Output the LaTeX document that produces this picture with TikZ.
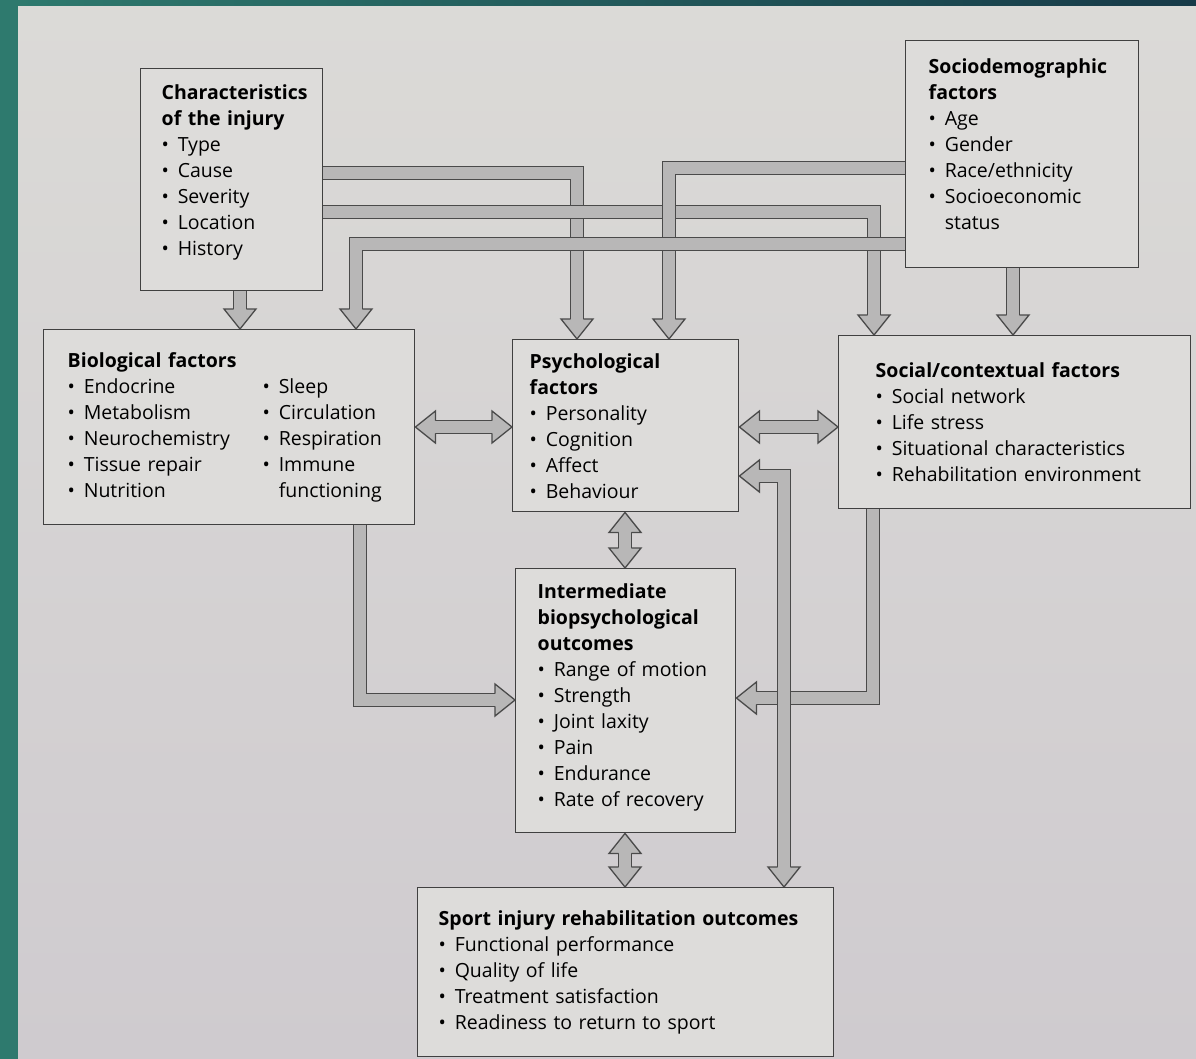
\documentclass[tikz,border=0pt]{standalone}
\usepackage{fontspec}
\setmainfont{Open Sans}
\usetikzlibrary{backgrounds}

\definecolor{tealbg}{HTML}{2E7A6E}
\definecolor{navybg}{HTML}{173A48}
\definecolor{paper}{HTML}{DBDAD7}
\definecolor{paperlow}{HTML}{CFCBCF}
\definecolor{boxfill}{HTML}{DDDCDA}
\definecolor{boxline}{HTML}{404040}
\definecolor{arrfill}{HTML}{B8B7B7}
\definecolor{arrline}{HTML}{4A4A4A}

\newcommand{\itm}{\textbullet\hspace{0.45em}}
\newcommand{\gap}{\phantom{\textbullet}\hspace{0.45em}}
\newcommand{\twocol}[2]{\makebox[195pt][l]{#1}#2}
% extra room under the last line, lifts the text in its box
\newcommand{\pushup}[1]{\par\vspace*{#1}\hrule height 0pt\relax}

\begin{document}
\begin{tikzpicture}[
    x = 1pt,
    y = -1pt,
    box/.style = {
      draw = boxline,
      line width = 1.4pt,
      fill = boxfill,
      anchor = north west,
      inner sep = 0pt,
      align = left,
      font = \fontsize{19.5pt}{26pt}\selectfont,
    },
    shaft/.style = {
      draw = arrline,
      line width = 1.3pt,
      double = arrfill,
      double distance = 11.4pt,
      line join = miter,
    },
    head/.pic = {
      \filldraw[draw = arrline, fill = arrfill, line width = 1.3pt, line join = miter]
        (-20,6.35) -- (-20,16) -- (0,0) -- (-20,-16) -- (-20,-6.35);
    },
    ]

    \useasboundingbox (0,0) rectangle (1196,1058);

    \node[box, text width=182pt, minimum height=222pt] (char) at (140,68)
      {\leftskip=21pt \textbf{Characteristics}\\ \textbf{of the injury}\\
       \itm Type\\ \itm Cause\\ \itm Severity\\ \itm Location\\ \itm History\pushup{14pt}};
    \node[box, text width=233pt, minimum height=227pt] (socio) at (905,40)
      {\leftskip=23pt \textbf{Sociodemographic}\\ \textbf{factors}\\
       \itm Age\\ \itm Gender\\ \itm Race/ethnicity\\ \itm Socioeconomic\\ \gap status\pushup{20pt}};
    \node[box, text width=371pt, minimum height=195pt] (bio) at (43,329)
      {\leftskip=24pt \textbf{Biological factors}\\
       \twocol{\itm Endocrine}{\itm Sleep}\\
       \twocol{\itm Metabolism}{\itm Circulation}\\
       \twocol{\itm Neurochemistry}{\itm Respiration}\\
       \twocol{\itm Tissue repair}{\itm Immune}\\
       \twocol{\itm Nutrition}{\gap functioning}\par};
    \node[box, text width=226pt, minimum height=172pt] (psych) at (512,339)
      {\leftskip=17pt \textbf{Psychological}\\ \textbf{factors}\\
       \itm Personality\\ \itm Cognition\\ \itm Affect\\ \itm Behaviour\par};
    \node[box, text width=352pt, minimum height=173pt] (social) at (838,335)
      {\leftskip=37pt \textbf{Social/contextual factors}\\
       \itm Social network\\ \itm Life stress\\ \itm Situational characteristics\\
       \itm Rehabilitation environment\par};
    \node[box, text width=220pt, minimum height=264pt] (inter) at (515,568)
      {\leftskip=22pt \textbf{Intermediate}\\ \textbf{biopsychological}\\ \textbf{outcomes}\\
       \itm Range of motion\\ \itm Strength\\ \itm Joint laxity\\ \itm Pain\\
       \itm Endurance\\ \itm Rate of recovery\pushup{6pt}};
    \node[box, text width=416pt, minimum height=169pt] (sport) at (417,887)
      {\leftskip=21pt \textbf{Sport injury rehabilitation outcomes}\\
       \itm Functional performance\\ \itm Quality of life\\
       \itm Treatment satisfaction\\ \itm Readiness to return to sport\par};

    \begin{pgfonlayer}{background}
    % page
    \shade[left color=tealbg, right color=navybg] (0,0) rectangle (1196,1058);
    \shade[top color=paper, bottom color=paperlow] (18,6) rectangle (1196,1058);

    % from the injury
    \draw[shaft, shorten >=20pt] (char.south -| 240,0) -- (bio.north -| 240,0);
    \pic[rotate=-90] at (bio.north -| 240,0) {head};
    \draw[shaft, shorten >=20pt] (char.east |- 0,173) -| (psych.north -| 577,0);
    \pic[rotate=-90] at (psych.north -| 577,0) {head};
    \draw[shaft, shorten >=20pt] (char.east |- 0,212) -| (social.north -| 874,0);
    \pic[rotate=-90] at (social.north -| 874,0) {head};

    % from sociodemographics
    \draw[shaft, shorten >=20pt] (socio.west |- 0,168) -| (psych.north -| 669,0);
    \pic[rotate=-90] at (psych.north -| 669,0) {head};
    \draw[shaft, shorten >=20pt] (socio.west |- 0,244) -| (bio.north -| 356,0);
    \pic[rotate=-90] at (bio.north -| 356,0) {head};
    \draw[shaft, shorten >=20pt] (socio.south -| 1013,0) -- (social.north -| 1013,0);
    \pic[rotate=-90] at (social.north -| 1013,0) {head};

    % between the factors
    \draw[shaft, shorten <=20pt, shorten >=20pt] (bio.east |- 0,427) -- (psych.west |- 0,427);
    \pic[rotate=180] at (bio.east |- 0,427) {head};
    \pic at (psych.west |- 0,427) {head};
    \draw[shaft, shorten <=20pt, shorten >=20pt] (psych.east |- 0,427) -- (social.west |- 0,427);
    \pic[rotate=180] at (psych.east |- 0,427) {head};
    \pic at (social.west |- 0,427) {head};

    % into the outcomes
    \draw[shaft, shorten >=20pt] (bio.south -| 360,0) |- (inter.west |- 0,700);
    \pic at (inter.west |- 0,700) {head};
    \draw[shaft, shorten >=20pt] (social.south -| 873,0) |- (inter.east |- 0,698);
    \pic[rotate=180] at (inter.east |- 0,698) {head};
    \draw[shaft, shorten <=20pt, shorten >=20pt] (psych.east |- 0,476) -| (sport.north -| 784,0);
    \pic[rotate=180] at (psych.east |- 0,476) {head};
    \pic[rotate=-90] at (sport.north -| 784,0) {head};
    \draw[shaft, shorten <=20pt, shorten >=20pt] (psych.south -| 625,0) -- (inter.north -| 625,0);
    \pic[rotate=90] at (psych.south -| 625,0) {head};
    \pic[rotate=-90] at (inter.north -| 625,0) {head};
    \draw[shaft, shorten <=20pt, shorten >=20pt] (inter.south -| 625,0) -- (sport.north -| 625,0);
    \pic[rotate=90] at (inter.south -| 625,0) {head};
    \pic[rotate=-90] at (sport.north -| 625,0) {head};
    \end{pgfonlayer}
  \end{tikzpicture}
\end{document}
